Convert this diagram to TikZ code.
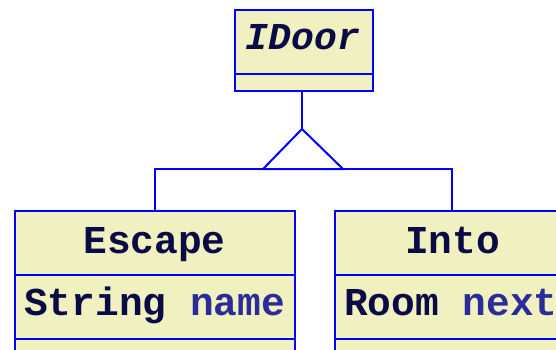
\documentclass[tikz,border=0pt]{standalone}
\usepackage{fontspec}
\setmonofont{Liberation Mono}
\definecolor{umlfill}{HTML}{F0F0C0}
\definecolor{umlline}{HTML}{0000FF}
\definecolor{umltext}{HTML}{0A0A45}
\definecolor{umlattr}{HTML}{2B2B9A}
\begin{document}
\begin{tikzpicture}[x=1pt,y=-1pt,
  compartment/.style={draw=umlline, fill=umlfill, line width=2pt, inner sep=0pt, anchor=north west},
  umllabel/.style={anchor=base, inner sep=0pt, text=umltext, font=\ttfamily\bfseries\fontsize{39.5}{40}\selectfont},
  conn/.style={draw=umlline, line width=2pt}]
\useasboundingbox (0,0) rectangle (556,350);
\clip (0,0) rectangle (556,350);
% IDoor
\node[compartment, minimum width=138pt, minimum height=64pt] (idoorname) at (234,9) {};
\node[compartment, minimum width=138pt, minimum height=17pt] (idoorattr) at (234,73) {};
\node[umllabel, font=\ttfamily\bfseries\itshape\fontsize{38}{40}\selectfont] (idoortext) at (303,50) {IDoor};
% Escape
\node[compartment, minimum width=280pt, minimum height=64pt] (escname) at (14,210) {};
\node[compartment, minimum width=280pt, minimum height=64pt] (escattr) at (14,274) {};
\node[compartment, minimum width=280pt, minimum height=40pt] (escmeth) at (14,338) {};
\node[umllabel] (esctext) at (154.5,253) {Escape};
\node[umllabel, anchor=base west] (escattrtext) at (24,315) {String \textcolor{umlattr}{name}};
% Into
\node[compartment, minimum width=236pt, minimum height=64pt] (intoname) at (334,210) {};
\node[compartment, minimum width=236pt, minimum height=64pt] (intoattr) at (334,274) {};
\node[compartment, minimum width=236pt, minimum height=40pt] (intometh) at (334,338) {};
\node[umllabel] (intotext) at (452.5,253) {Into};
\node[umllabel, anchor=base west] (intoattrtext) at (344,315) {Room \textcolor{umlattr}{next}};
% generalization
\coordinate (apex) at (302,129);
\coordinate (baseL) at (263,169);
\coordinate (baseR) at (343,169);
\coordinate (bar) at (0,169);
\coordinate (escjoin) at (155,210);
\coordinate (intojoin) at (452,210);
\draw[conn] (idoorattr.south -| apex) -- (apex);
\draw[conn, line join=miter] (apex) -- (baseL) -- (baseR) -- cycle;
\draw[conn] (escjoin) -- (escjoin |- bar) -- (intojoin |- bar) -- (intojoin);
\end{tikzpicture}
\end{document}
